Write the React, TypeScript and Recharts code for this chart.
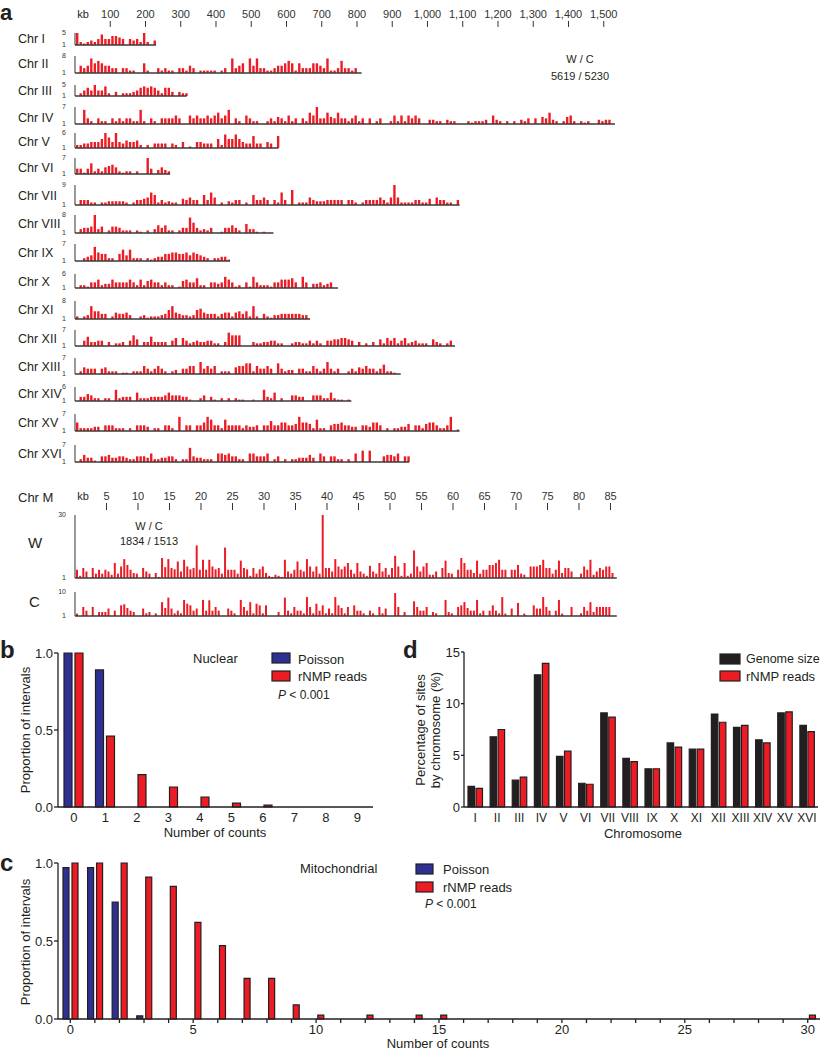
import React from "react";
import { BarChart, Bar, XAxis, YAxis, LineChart, Line } from "recharts";

const FONT = '"Liberation Sans", Arial, Helvetica, sans-serif';
const RED = "#ED1C24";
const BLUE = "#2E3192";
const DARK = "#231F20";

// ---- panel a: nuclear chromosomes (signal per 10-kb bin, baseline = 1)
const CHR_NAMES = ["I", "II", "III", "IV", "V", "VI", "VII", "VIII", "IX", "X", "XI", "XII", "XIII", "XIV", "XV", "XVI"];
const CHR_LEN = [230, 813, 317, 1532, 577, 270, 1091, 563, 440, 746, 667, 1078, 924, 784, 1091, 948];
const CHR_MAX = [5, 8, 5, 7, 6, 7, 9, 8, 7, 6, 8, 7, 7, 6, 7, 7];

const chrI = [5, 2, 1.5, 2, 2.5, 2, 3, 4.5, 3, 3, 4, 4, 3.5, 3, 1, 3, 2.5, 3, 2, 5, 2, 1, 2.5];
const chrII = [1, 4, 3, 4, 7, 5, 6, 5, 4, 4, 3, 3, 1, 3, 3, 2, 2, 1, 1, 5, 2, 1, 1, 3, 2, 3, 2, 2, 1, 3, 3, 2, 4, 3, 1, 2, 2, 2, 2, 2, 1, 2, 3, 1, 7, 3, 4, 5, 1, 7, 4, 7, 3, 3, 2, 2, 3, 4, 4, 5, 6, 5, 2, 5, 3, 3, 3, 5, 5, 4, 3, 7, 2, 2, 3, 6, 3, 3, 2, 3, 1];
const chrIII = [1, 2, 3, 4, 3, 5, 3, 3, 4.5, 2, 1, 2.5, 1, 2, 2, 2, 2.5, 3, 4, 4.5, 4, 4.5, 4, 3, 2, 4, 4, 2.5, 1, 2.5, 2, 2];
const chrIV = [1, 1, 6, 3, 2, 1, 3, 2, 2, 1, 3, 2, 3, 2, 3, 3, 2, 2, 6, 2, 1, 3, 2, 1, 3, 3, 3, 3, 4, 3, 1, 1, 4, 3, 4, 3, 3, 4, 3, 4, 5, 3, 4, 6, 1, 3, 2, 1, 4, 3, 2, 2, 1, 1, 2, 3, 2, 3.5, 3, 2, 4, 2, 3, 1, 3, 2, 5, 4, 7, 3, 3, 5, 3.5, 3, 5, 3, 3, 2, 3, 4, 2, 3, 1, 3, 1, 2, 3, 1, 1, 2, 4, 2, 4, 2, 4, 3, 4, 3, 1, 1, 2.5, 2.5, 2, 2, 1, 2.5, 2, 2, 1, 1, 1, 2, 1.5, 2, 2, 2, 2.5, 1, 4, 2.5, 2, 1, 2, 1, 2, 1, 2.5, 2, 3, 1, 3, 1, 3.5, 3, 5, 2.5, 2, 1, 2, 3.5, 4, 2, 1, 2, 1.5, 2, 1, 1, 2.5, 2, 2.5, 2.5, 1];
const chrV = [2, 2, 2.5, 2.5, 3, 3, 3, 4, 6, 4.5, 3, 6, 3, 2.5, 3.5, 3, 3, 3.5, 2, 1, 2, 1, 2.5, 2.5, 2.5, 2.5, 1, 2.5, 2, 1, 3, 1, 1.5, 1, 3, 3, 2.5, 2.5, 2.5, 1, 4, 2, 5.5, 4, 4, 5.5, 4, 3, 2.5, 2.5, 5, 2.5, 2.5, 1, 3, 2.5, 1, 5];
const chrVI = [3, 3, 1.5, 3, 5, 2, 3, 2, 3.5, 4, 4.5, 3.5, 2, 1.5, 2, 2, 1, 2, 1, 1, 7, 3, 1, 2.5, 3.5, 2.5, 2];
const chrVII = [1, 3, 3, 3, 2, 2, 1, 2, 2, 2.5, 2.5, 2.5, 2.5, 2.5, 2, 1, 2, 3, 3, 3.5, 4, 6, 5, 2, 3, 2, 2.5, 2, 2, 1, 3.5, 3, 4, 3, 3, 1, 5, 3, 6, 4, 1, 2, 1, 2.5, 2, 3, 3, 1, 2, 1, 5, 3, 3, 4, 3, 1, 3, 2, 6, 3, 1, 7, 1, 2, 2, 2, 4, 3, 2.5, 2.5, 2.5, 3, 3, 3, 3, 3, 1, 3, 3, 2, 1, 2, 3, 3, 3, 3, 4, 3, 2, 4, 9, 4, 2, 2, 2, 2, 3, 3, 2, 2, 3.5, 1, 4, 3, 3, 2, 2, 1, 3];
const chrVIII = [1, 2.5, 3, 3, 3.5, 8, 2.5, 3.5, 1, 2, 3.5, 3.5, 3, 2, 2, 2, 1, 2, 1.5, 1, 2, 1, 2.5, 4, 3, 4, 2, 2, 1, 2, 3, 3, 7, 5, 3, 2, 2.5, 2, 3, 1, 1, 1.5, 3, 3, 4, 3, 2, 1, 4.5, 2.5, 2.5, 1.5, 1, 1.5, 1, 1];
const chrIX = [1, 1, 2, 2.5, 3, 6, 4, 3.5, 3.5, 2, 2, 1, 3.5, 5, 3, 5, 2, 2, 2, 1, 2, 1.5, 2, 2.5, 2.5, 3.5, 3.5, 4, 4, 3.5, 3.5, 4, 3, 4, 3.5, 3, 2.5, 2, 1, 2, 2, 2.5, 2.5, 1.5];
const chrX = [1, 2, 2, 1.5, 3, 3, 4, 2, 2.5, 2.5, 4, 3, 3, 3, 3, 4, 3, 2, 4, 2, 3.5, 4, 3, 3, 2, 3, 2, 2, 1, 1.5, 3.5, 4, 3, 3, 4.5, 2, 2, 1, 3, 3, 2.5, 3, 5, 4, 3, 1.5, 2, 1, 3, 1.5, 5, 3, 2, 2, 2, 1.5, 3, 3, 4, 4, 4, 4.5, 3, 1, 5, 3, 1, 2.5, 2.5, 3, 2, 2.5, 3, 1, 1];
const chrXI = [2, 1, 2, 2.5, 6, 4, 4, 3, 3, 1, 2, 3.5, 3, 3, 3.5, 2.5, 1, 1, 2, 2.5, 1.5, 2, 2, 2, 2.5, 3, 4.5, 6, 3.5, 3, 2.5, 2.5, 2, 2.5, 4.5, 5, 3.5, 3, 3, 3, 2, 3, 3.5, 3.5, 2, 3.5, 4, 3, 4, 2, 6, 2, 1, 3, 2, 1.5, 2.5, 2.5, 3, 3, 3, 3, 3, 3, 2.5, 2.5, 1];
const chrXII = [1, 1, 3, 4.5, 2.5, 2.5, 3, 3, 1, 2.5, 1, 2, 2, 2.5, 1, 3, 5, 3.5, 1, 2.5, 2.5, 4.5, 2.5, 2.5, 2.5, 2.5, 1, 3, 4, 1, 4, 3, 2, 2.5, 3, 2.5, 2.5, 3, 3, 2, 2, 1, 2.5, 6, 5, 5, 5, 1, 1, 1, 2.5, 2, 2, 2.5, 2.5, 3, 3, 2, 2, 1, 1, 2, 2.5, 2.5, 2, 2, 3, 2, 3, 2, 1, 3, 3, 3.5, 3.5, 4, 4, 3.5, 3, 1, 2.5, 1, 2, 1, 2.5, 1, 3.5, 2, 4, 3, 4, 2, 3, 4, 2, 2.5, 3, 2, 2, 2, 1, 3.5, 2.5, 2, 1, 2, 3, 1];
const chrXIII = [1, 2, 3.5, 3, 3, 3, 1, 3, 3.5, 2, 2, 2, 1, 1.5, 1.5, 1, 2, 2, 2, 4, 3, 2, 3, 4, 3, 2, 1, 2, 2.5, 1, 3, 3, 4, 4, 1, 5.5, 3, 4, 3, 4, 1, 2, 2, 2, 1, 3.5, 4, 4, 5, 5, 2, 4, 3, 3, 4, 3, 1, 5, 3, 2, 2.5, 2.5, 1, 3, 3, 2, 2, 4, 3, 2, 3, 5.5, 3, 2, 3, 1, 1, 2, 3, 2, 3.5, 3, 4, 3, 3, 2, 3, 4.5, 2, 2, 1.5, 1];
const chrXIV = [1, 2.5, 2.5, 3.5, 3, 2, 2, 1, 2, 2, 1, 5, 2, 2.5, 2.5, 2.5, 1, 4, 2, 2, 2, 2.5, 2.5, 2.5, 2.5, 3, 4, 3, 3, 3, 2.5, 2.5, 1.5, 1, 1, 2, 3, 1, 2.5, 1.5, 1, 2, 1, 2, 1, 2, 1.5, 1.5, 1, 1, 1.5, 1, 1, 5, 2.5, 2, 4, 1, 2, 1, 1, 3, 3, 2.5, 2.5, 1, 1, 3, 3, 3, 2, 2, 4, 2, 1.5, 1.5, 1, 1.5];
const chrXV = [4, 2, 2, 2, 2, 2.5, 2.5, 1, 3, 3, 3, 2, 2, 2, 1, 2, 1, 3, 3, 3, 2.5, 1, 2, 2, 1, 3, 3, 2, 1, 6, 1, 3, 3, 1, 3, 3, 4, 6, 5, 3, 3, 2, 5, 3, 3, 3, 3, 2, 3, 2.5, 2.5, 3, 1, 3, 3, 4.5, 3, 3, 4, 4, 3, 3, 3.5, 6, 4, 4, 3.5, 2, 5, 2, 2, 1, 3, 3.5, 3.5, 4, 3, 3, 2.5, 2.5, 1, 3, 3, 2.5, 4, 4, 3, 1, 2, 1, 2, 2, 2.5, 2.5, 3.5, 1, 3, 3, 2, 3.5, 4, 4, 3, 2, 2, 3, 6, 1, 1.5];
const chrXVI = [1, 2, 3.5, 2.5, 2.5, 1.5, 1, 3, 3, 3.5, 2.5, 2.5, 3, 3, 2.5, 2, 2, 3, 3, 3, 2.5, 4, 2, 2, 2.5, 2.5, 3, 3, 2, 1, 2, 2, 6, 3, 2.5, 2.5, 2, 2, 2, 1, 4, 4, 3.5, 4, 3, 3, 2, 2, 1, 4, 4, 3, 3, 3, 4, 1, 2, 3, 1, 2, 1, 2, 2, 2.5, 2.5, 2.5, 3.5, 2.5, 1, 4, 3, 1, 3, 3, 2, 2, 1, 2, 1, 4, 1, 5, 1, 5, 1, 1, 1, 3, 3.5, 3.5, 3, 4, 1, 3, 3];
const CHR_VALUES = [chrI, chrII, chrIII, chrIV, chrV, chrVI, chrVII, chrVIII, chrIX, chrX, chrXI, chrXII, chrXIII, chrXIV, chrXV, chrXVI];

const KB_TICKS = [100, 200, 300, 400, 500, 600, 700, 800, 900, 1000, 1100, 1200, 1300, 1400, 1500];

// mitochondrial DNA, Watson and Crick strands (signal per 0.5-kb bin)
const MITO_LEN = 86;
const MITO_TICKS = [5, 10, 15, 20, 25, 30, 35, 40, 45, 50, 55, 60, 65, 70, 75, 80, 85];
const mitoW = [4.8, 2, 5.6, 4, 1, 5.6, 3, 4.8, 3, 4.8, 4, 2.5, 7.9, 3, 6.3, 9.7, 7, 4.8, 3.3, 3, 1, 5.6, 4, 3, 1, 3.3, 1.5, 10.2, 6, 9.7, 5.6, 5, 8.6, 4, 9.4, 6.3, 5, 5.6, 16, 4.8, 9.4, 4.8, 9.4, 6.3, 5, 5.6, 3, 15, 4.8, 4.8, 4.8, 3, 9, 5.6, 5, 2, 5.6, 3, 5, 6.3, 3.3, 2, 1.5, 2.5, 2, 1.5, 9.4, 4, 3, 4.8, 8.6, 4.8, 4, 9.7, 6.3, 4, 6.3, 3, 30, 5.6, 5.6, 4, 9.7, 6.3, 5, 6.3, 7.9, 4.8, 3, 7.9, 4, 3, 2, 6.6, 4, 3, 7.9, 4, 5.6, 2.5, 5.6, 11.2, 6.3, 2, 7.9, 2, 3, 13.7, 6.3, 4, 6.3, 7.9, 2.5, 2.5, 4, 1, 5.6, 9, 3.3, 3, 1, 4.8, 10.2, 7.9, 4.8, 4.8, 3.3, 9, 3, 4.8, 4.8, 7, 7, 7.9, 9.4, 4.8, 4.8, 1, 4.8, 4.8, 7, 3, 2.5, 1, 6.3, 6.3, 6.3, 7, 9.4, 5.6, 5.6, 3, 4.8, 9, 3.3, 5.6, 5.6, 4, 1, 1, 3, 6.3, 4.8, 9.4, 2.5, 4, 5.6, 4.8, 6.3, 6.3, 3.3];
const mitoC = [1.9, 1, 4.4, 3, 1, 4.4, 1, 2.5, 2.5, 2.5, 3.8, 1, 3, 1, 5, 5.4, 4, 3, 2.5, 1, 1, 3.8, 2, 2.5, 1, 2, 1, 6.2, 4, 7.9, 3.8, 2, 3, 2, 7, 5.6, 5, 3, 3.8, 1, 7, 3, 6.9, 3, 4.4, 3, 1, 1, 3.8, 3, 2, 1, 7, 4.4, 3, 6.2, 2, 5.6, 5, 2, 5, 1, 1, 1, 2.5, 1, 7.9, 3, 2, 4.4, 3, 3, 2, 8.1, 4.4, 2, 5.6, 3, 5, 2, 3.8, 2, 8.1, 5, 4, 2, 4.4, 1, 5, 3, 3, 2, 1, 3, 2, 1, 4.4, 2, 3.8, 1, 1, 9.6, 4.4, 1, 2.5, 1, 1, 6.5, 4.4, 3, 3, 4.4, 1, 2.5, 2, 1, 1, 7, 2.5, 2, 1, 4.4, 5, 6.2, 4, 3, 3, 7, 2, 3, 1, 3, 5, 3, 2, 8.1, 1.9, 1, 3.8, 1, 5.9, 1, 1.9, 1, 1, 5, 3.8, 3.8, 8.1, 4.4, 3, 1, 3, 7, 1.9, 1, 1, 4.4, 1, 1, 2, 4.4, 3, 6.2, 2.5, 4.4, 4.4, 4.4, 4.4, 4.4, 1];

// ---- panel b: nuclear interval counts
const nucCounts = ["0", "1", "2", "3", "4", "5", "6", "7", "8", "9"];
const nucPoisson = [1.0, 0.89, 0, 0, 0, 0, 0, 0, 0, 0];
const nucReads = [1.0, 0.46, 0.21, 0.13, 0.065, 0.025, 0.012, 0, 0, 0];

// ---- panel c: mitochondrial interval counts
const mitoCounts = [0, 1, 2, 3, 4, 5, 6, 7, 8, 9, 10, 11, 12, 13, 14, 15, 16, 17, 18, 19, 20, 21, 22, 23, 24, 25, 26, 27, 28, 29, 30];
const mitoPoisson = [0.97, 0.97, 0.75, 0.02, 0, 0, 0, 0, 0, 0, 0, 0, 0, 0, 0, 0, 0, 0, 0, 0, 0, 0, 0, 0, 0, 0, 0, 0, 0, 0, 0];
const mitoReads = [1.0, 1.0, 1.0, 0.91, 0.85, 0.62, 0.47, 0.26, 0.26, 0.09, 0.025, 0, 0.025, 0, 0.025, 0.025, 0, 0, 0, 0, 0, 0, 0, 0, 0, 0, 0, 0, 0, 0, 0.025];

// ---- panel d: share of sites by chromosome (%)
const genomeShare = [2.0, 6.8, 2.6, 12.8, 4.9, 2.3, 9.1, 4.7, 3.7, 6.2, 5.6, 9.0, 7.7, 6.5, 9.1, 7.9];
const readsShare = [1.8, 7.5, 2.9, 13.9, 5.4, 2.2, 8.7, 4.4, 3.7, 5.8, 5.6, 8.2, 7.9, 6.2, 9.2, 7.3];

// layout of panel a tracks
const KB_PX = 0.3525;
const MITO_PX = 6.3;
const ORIGIN_X = 75;
const TRACK_BASE = [45, 73, 96, 124, 148, 174, 205, 233, 261, 288, 319, 346, 374, 401, 431, 462];
const TRACK_H = [12, 17, 11, 17, 15, 16, 20, 18, 17, 14, 18, 16, 16, 14, 17, 17];
const LABEL_BASE = [43, 68, 95, 122, 146, 172, 200, 228, 257, 286, 314, 343, 371, 398, 427, 458];

const abs = (left: number, top: number): React.CSSProperties => ({ position: "absolute", left, top });

function Track({ values, len, max, base, h, binKb, px, barSize }: { values: number[]; len: number; max: number; base: number; h: number; binKb: number; px: number; barSize: number }) {
  const data = values.map((v, i) => ({ kb: i * binKb + binKb / 2, v }));
  const top = 5;
  const axisW = 20;
  return (
    <div style={abs(ORIGIN_X - axisW, base - h - top)}>
      <BarChart width={axisW + len * px + 2} height={top + h + 2} data={data} margin={{ top, right: 2, left: 0, bottom: 0 }}>
        <XAxis type="number" dataKey="kb" domain={[0, len]} height={2} tick={false} tickLine={false} axisLine={{ stroke: "#3a3a3a", strokeWidth: 1.6 }} />
        <YAxis domain={[1, max]} ticks={[1, max]} interval={0} width={axisW} tickLine={false} tickMargin={3}
          axisLine={{ stroke: "#333", strokeWidth: 1 }} tick={{ fontSize: 7, fill: "#333" }} />
        <Bar dataKey="v" fill={RED} barSize={barSize} isAnimationActive={false} />
      </BarChart>
    </div>
  );
}

function KbAxis({ ticks, len, px, axisY, tickSize, fmt }: { ticks: number[]; len: number; px: number; axisY: number; tickSize: number; fmt?: (v: number) => string }) {
  const data = ticks.map((t) => ({ kb: t, v: 0 }));
  return (
    <div style={abs(ORIGIN_X, axisY - 27)}>
      <LineChart width={len * px + 20} height={30} data={data} margin={{ top: 0, right: 20, left: 0, bottom: 0 }}>
        <XAxis orientation="top" type="number" dataKey="kb" domain={[0, len]} ticks={ticks} interval={0} height={27}
          axisLine={false} tickSize={tickSize} tickMargin={3} tickLine={{ stroke: "#333" }}
          tick={{ fontSize: 11, fill: "#333" }} tickFormatter={fmt} />
        <YAxis hide domain={[0, 1]} />
        <Line dataKey="v" stroke="none" dot={false} isAnimationActive={false} />
      </LineChart>
    </div>
  );
}

const axisStyle = { stroke: DARK, strokeWidth: 1.3 };
const tickText = { fontSize: 13, fill: DARK };

function Txt({ x, y, children, size = 13, anchor = "start", rotate = false, bold = false }: any) {
  return (
    <text x={x} y={y} fontSize={size} textAnchor={anchor} fill={DARK} fontWeight={bold ? "bold" : "normal"}
      transform={rotate ? `rotate(-90 ${x} ${y})` : undefined}>
      {children}
    </text>
  );
}

export default function App() {
  const nucData = nucCounts.map((n, i) => ({ n, poisson: nucPoisson[i], reads: nucReads[i] }));
  const mitoData = mitoCounts.map((n, i) => ({ n, poisson: mitoPoisson[i], reads: mitoReads[i] }));
  const shareData = CHR_NAMES.map((c, i) => ({ c, genome: genomeShare[i], reads: readsShare[i] }));

  return (
    <div style={{ position: "absolute", left: 0, top: 0, width: 822, height: 1050, background: "#fff", fontFamily: FONT, overflow: "hidden" }}>
      {/* panel a */}
      <KbAxis ticks={KB_TICKS} len={1532} px={KB_PX} axisY={27} tickSize={6} fmt={(v) => v.toLocaleString("en-US")} />
      {CHR_NAMES.map((name, i) => (
        <Track key={name} values={CHR_VALUES[i]} len={CHR_LEN[i]} max={CHR_MAX[i]} base={TRACK_BASE[i]} h={TRACK_H[i]} binKb={10} px={KB_PX} barSize={2.4} />
      ))}
      <KbAxis ticks={MITO_TICKS} len={MITO_LEN} px={MITO_PX} axisY={510} tickSize={7} />
      <Track values={mitoW} len={MITO_LEN} max={30} base={578} h={63} binKb={0.5} px={MITO_PX} barSize={2} />
      <Track values={mitoC} len={MITO_LEN} max={10} base={616} h={24} binKb={0.5} px={MITO_PX} barSize={2} />

      {/* panel b */}
      <div style={abs(0, 643)}>
        <BarChart width={378} height={194} data={nucData} margin={{ top: 10, right: 5, left: 0, bottom: 0 }} barGap={3}>
          <XAxis dataKey="n" interval={0} height={30} tickLine={false} tickSize={6} tickMargin={0} axisLine={axisStyle} tick={tickText} />
          <YAxis domain={[0, 1]} ticks={[0, 0.5, 1]} interval={0} width={58} tickSize={4} tickMargin={1}
            tickFormatter={(v: number) => v.toFixed(1)} axisLine={axisStyle} tickLine={axisStyle} tick={tickText} />
          <Bar dataKey="poisson" fill={BLUE} stroke={DARK} strokeWidth={1.2} barSize={8} isAnimationActive={false} />
          <Bar dataKey="reads" fill={RED} stroke={DARK} strokeWidth={1.2} barSize={8} isAnimationActive={false} />
        </BarChart>
      </div>

      {/* panel c */}
      <div style={abs(0, 853)}>
        <BarChart width={822} height={196} data={mitoData} margin={{ top: 10, right: 2, left: 0, bottom: 0 }} barGap={3}>
          <XAxis dataKey="n" interval={0} height={30} tickSize={4} tickMargin={2} axisLine={axisStyle} tickLine={axisStyle}
            tick={tickText} tickFormatter={(v: number) => (v % 5 === 0 ? String(v) : "")} />
          <YAxis domain={[0, 1]} ticks={[0, 0.5, 1]} interval={0} width={58} tickSize={4} tickMargin={1}
            tickFormatter={(v: number) => v.toFixed(1)} axisLine={axisStyle} tickLine={axisStyle} tick={tickText} />
          <Bar dataKey="poisson" fill={BLUE} stroke={DARK} strokeWidth={1.2} barSize={6} isAnimationActive={false} />
          <Bar dataKey="reads" fill={RED} stroke={DARK} strokeWidth={1.2} barSize={6} isAnimationActive={false} />
        </BarChart>
      </div>

      {/* panel d */}
      <div style={abs(434, 642)}>
        <BarChart width={388} height={195} data={shareData} margin={{ top: 10, right: 4, left: 0, bottom: 0 }} barGap={1.5}>
          <XAxis dataKey="c" interval={0} height={30} tickLine={false} tickSize={6} tickMargin={0} axisLine={axisStyle} tick={{ fontSize: 12, fill: DARK }} />
          <YAxis domain={[0, 15]} ticks={[0, 5, 10, 15]} interval={0} width={30} tickSize={3} tickMargin={1}
            axisLine={axisStyle} tickLine={axisStyle} tick={tickText} />
          <Bar dataKey="genome" fill={DARK} stroke={DARK} strokeWidth={1.2} barSize={6.5} isAnimationActive={false} />
          <Bar dataKey="reads" fill={RED} stroke={DARK} strokeWidth={1.2} barSize={6.5} isAnimationActive={false} />
        </BarChart>
      </div>

      {/* labels */}
      <svg width={822} height={1050} style={{ position: "absolute", left: 0, top: 0, pointerEvents: "none", fontFamily: FONT }}>
        <Txt x={0} y={20} size={22} bold>a</Txt>
        <Txt x={0} y={658} size={24} bold>b</Txt>
        <Txt x={0} y={871} size={24} bold>c</Txt>
        <Txt x={403} y={658} size={24} bold>d</Txt>

        <Txt x={83} y={18} size={11} anchor="middle">kb</Txt>
        {CHR_NAMES.map((name, i) => (
          <Txt key={name} x={18} y={LABEL_BASE[i]} size={12.5}>{`Chr ${name}`}</Txt>
        ))}
        <Txt x={580} y={63} size={11} anchor="middle">W / C</Txt>
        <Txt x={580} y={80} size={11} anchor="middle">5619 / 5230</Txt>

        <Txt x={18} y={502}>Chr M</Txt>
        <Txt x={83} y={500} size={11} anchor="middle">kb</Txt>
        <Txt x={28} y={548} size={15}>W</Txt>
        <Txt x={29} y={607} size={15}>C</Txt>
        <Txt x={149} y={530} size={11} anchor="middle">W / C</Txt>
        <Txt x={149} y={545} size={11} anchor="middle">1834 / 1513</Txt>

        {/* b */}
        <Txt x={29.5} y={730} rotate anchor="middle">Proportion of intervals</Txt>
        <Txt x={215} y={837} anchor="middle">Number of counts</Txt>
        <Txt x={193} y={663}>Nuclear</Txt>
        <rect x={272} y={653} width={18} height={10} fill={BLUE} stroke={DARK} strokeWidth={1.2} />
        <rect x={272} y={671} width={18} height={10} fill={RED} stroke={DARK} strokeWidth={1.2} />
        <Txt x={298} y={664}>Poisson</Txt>
        <Txt x={298} y={681}>rNMP reads</Txt>
        <Txt x={278} y={699} size={12}><tspan fontStyle="italic">P</tspan>{" < 0.001"}</Txt>

        {/* c */}
        <Txt x={29.5} y={942} rotate anchor="middle">Proportion of intervals</Txt>
        <Txt x={438} y={1048} anchor="middle">Number of counts</Txt>
        <Txt x={300} y={873}>Mitochondrial</Txt>
        <rect x={416} y={864} width={17} height={10} fill={BLUE} stroke={DARK} strokeWidth={1.2} />
        <rect x={416} y={882} width={17} height={10} fill={RED} stroke={DARK} strokeWidth={1.2} />
        <Txt x={443} y={874}>Poisson</Txt>
        <Txt x={443} y={892}>rNMP reads</Txt>
        <Txt x={425} y={908} size={12}><tspan fontStyle="italic">P</tspan>{" < 0.001"}</Txt>

        {/* d */}
        <Txt x={424.5} y={730} rotate anchor="middle">Percentage of sites</Txt>
        <Txt x={439.5} y={730} rotate anchor="middle">by chromosome (%)</Txt>
        <Txt x={643} y={838} anchor="middle">Chromosome</Txt>
        <rect x={720} y={654} width={20} height={10} fill={DARK} stroke={DARK} strokeWidth={1.2} />
        <rect x={720} y={671} width={20} height={10} fill={RED} stroke={DARK} strokeWidth={1.2} />
        <Txt x={746} y={663} size={12.5}>Genome size</Txt>
        <Txt x={746} y={681}>rNMP reads</Txt>
      </svg>
    </div>
  );
}
